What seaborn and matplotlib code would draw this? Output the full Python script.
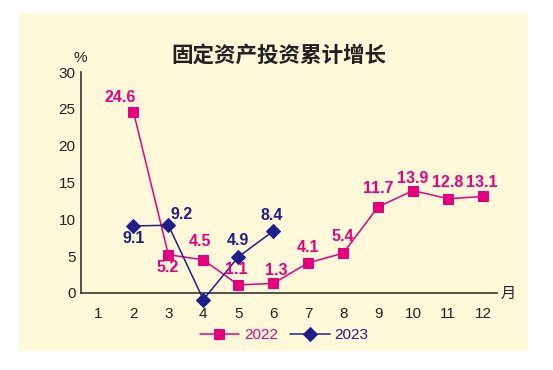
import matplotlib
matplotlib.use("Agg")
import matplotlib.pyplot as plt
import seaborn as sns
import pandas as pd
from matplotlib.patches import Rectangle
from matplotlib.ticker import FixedLocator

months_2022 = [2, 3, 4, 5, 6, 7, 8, 9, 10, 11, 12]
values_2022 = [24.6, 5.2, 4.5, 1.1, 1.3, 4.1, 5.4, 11.7, 13.9, 12.8, 13.1]
months_2023 = [2, 3, 4, 5, 6]
values_2023 = [9.1, 9.2, -0.9, 4.9, 8.4]
x_ticks = list(range(1, 13))
y_ticks = [0, 5, 10, 15, 20, 25, 30]
title = "固定资产投资累计增长"

# label offsets in pixels (dx, dy)
off_2022 = [(-13, 14), (-1, -13), (-3, 18), (-2, 15), (3, 13), (0, 15), (0, 17), (0, 18), (0, 12), (0, 16), (-1, 14)]
off_2023 = [(0, -13), (13, 11), (3, 22), (0, 16), (-2, 16)]

C22 = "#E4007F"
C23 = "#1E1E8C"
BG = "#FFF9DA"

sns.set_theme(style="white")
plt.rcParams['font.family'] = ['Liberation Sans', 'Noto Sans CJK SC', 'DejaVu Sans']

W, H = 553, 370
fig = plt.figure(figsize=(W / 100, H / 100), dpi=100)
fig.patch.set_facecolor("white")
fig.patches.append(Rectangle((19 / W, 1 - 351 / H), (528 - 19) / W, (351 - 13) / H,
                             transform=fig.transFigure, facecolor=BG, edgecolor="none", zorder=-10))

ax = fig.add_axes([81 / W, 1 - 293 / H, (497 - 81) / W, (293 - 72) / H])
ax.set_facecolor("none")
ax.set_zorder(1)

df22 = pd.DataFrame({"month": months_2022, "value": values_2022})
df23 = pd.DataFrame({"month": months_2023, "value": values_2023})

sns.lineplot(data=df22, x="month", y="value", ax=ax, color=C22, lw=1.1, marker="s",
             markersize=7.2, markeredgecolor=C22, label="2022", clip_on=False, zorder=3)
sns.lineplot(data=df23, x="month", y="value", ax=ax, color=C23, lw=1.1, marker="D",
             markersize=7.5, markeredgecolor=C23, label="2023", clip_on=False, zorder=4)

for m, v, (dx, dy) in zip(months_2022, values_2022, off_2022):
    ax.annotate(f"{v:g}", (m, v), xytext=(dx, dy), textcoords="offset pixels",
                ha="center", va="center", color=C22, fontsize=11.5, fontweight="bold", zorder=5)
for m, v, (dx, dy) in zip(months_2023, values_2023, off_2023):
    ax.annotate(f"{v:g}", (m, v), xytext=(dx, dy), textcoords="offset pixels",
                ha="center", va="center", color=C23, fontsize=11.5, fontweight="bold", zorder=5)

ax.set_xlim(0.5, 12.4)
ax.set_ylim(0, 30)
ax.set_xticks(x_ticks)
ax.set_xticklabels([str(t) for t in x_ticks], fontsize=11, color="#222222")
ax.xaxis.set_minor_locator(FixedLocator([t + 0.5 for t in x_ticks[:-1]]))
ax.set_yticks(y_ticks)
ax.set_yticklabels([str(t) for t in y_ticks], fontsize=11, color="#222222")
ax.tick_params(axis="x", which="major", length=0, pad=10)
ax.tick_params(axis="x", which="minor", length=3, direction="in", color="#333333", width=1)
ax.tick_params(axis="y", which="major", length=3, direction="in", color="#333333", width=1, pad=4)
ax.set_xlabel("")
ax.set_ylabel("")
for s in ["top", "right"]:
    ax.spines[s].set_visible(False)
for s in ["left", "bottom"]:
    ax.spines[s].set_color("#333333")
    ax.spines[s].set_linewidth(1.2)

fig.text(279 / W, 1 - 55 / H, title, ha="center", va="center", fontsize=15.5,
         fontweight="bold", color="#222222", family=["Noto Sans CJK SC", "DejaVu Sans"])
fig.text(80 / W, 1 - 58 / H, "%", ha="center", va="center", fontsize=11, color="#222222")
fig.text(508 / W, 1 - 293 / H, "月", ha="center", va="center", fontsize=11, color="#222222",
         family=["Noto Sans CJK SC", "DejaVu Sans"])

leg = ax.legend(loc="center", bbox_to_anchor=(284 / W, 1 - 335 / H), bbox_transform=fig.transFigure,
                ncol=2, frameon=False, fontsize=11, handlelength=2.6, columnspacing=0.8,
                handletextpad=0.3)
for t, c in zip(leg.get_texts(), [C22, C23]):
    t.set_color(c)

fig.savefig("out.png", dpi=100, facecolor=fig.get_facecolor())
